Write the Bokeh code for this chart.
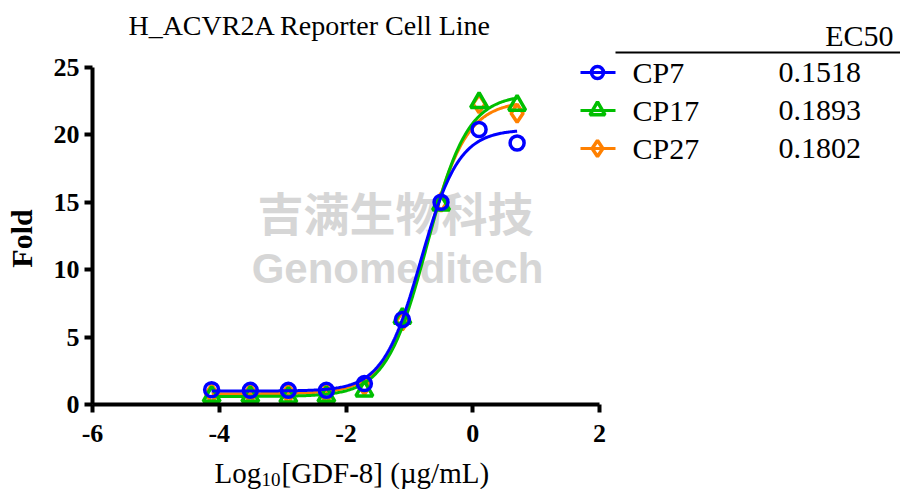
import numpy as np
from bokeh.plotting import figure
from bokeh.models import Range1d, FixedTicker, PrintfTickFormatter
from bokeh.core.properties import value
from bokeh.embed import file_html
from bokeh.resources import INLINE

# ---- data ----
log_conc = [-4.12, -3.51, -2.91, -2.31, -1.71, -1.11, -0.50, 0.10, 0.70]
series_names = ["CP7", "CP17", "CP27"]
fold_cp7 = [1.1, 1.05, 1.05, 1.05, 1.55, 6.3, 15.0, 20.4, 19.4]
fold_cp17 = [0.6, 0.6, 0.55, 0.6, 1.0, 6.4, 14.8, 22.4, 22.2]
fold_cp27 = [0.8, 0.8, 0.8, 0.8, 1.4, 6.2, 15.0, 22.3, 21.6]
ec50_labels = ["0.1518", "0.1893", "0.1802"]
# 4PL fit parameters (bottom, top, EC50 in ug/mL, hill slope)
fit_bottom = [1.0, 0.6, 0.8]
fit_top = [20.4, 23.0, 22.5]
fit_ec50 = [0.1518, 0.1893, 0.1802]
fit_hill = [1.45, 1.35, 1.35]
x_ticks = [-6, -4, -2, 0, 2]
y_ticks = [0, 5, 10, 15, 20, 25]

colors = ["#0000FF", "#00BF00", "#FF8000"]
markers = ["circle", "triangle", "diamond"]
marker_sizes = [14, 17, 18]
fold_all = [fold_cp7, fold_cp17, fold_cp27]

SERIF = "Liberation Serif"
W, H = 900, 489
X0_PX, PX_PER_X = 92.0, 63.375     # pixel of x=-6, pixels per x unit
Y0_PX, PX_PER_Y = 404.0, 13.48     # pixel of y=0, pixels per y unit


def fx(px):
    return -6 + (px - X0_PX) / PX_PER_X


def fy(py):
    return (Y0_PX - py) / PX_PER_Y


p = figure(width=W, height=H, output_backend="svg", toolbar_location=None,
           x_range=Range1d(fx(0), fx(W)), y_range=Range1d(fy(H), fy(0)),
           min_border_left=0, min_border_bottom=0, min_border_top=0, min_border_right=0)
p.outline_line_color = None
p.grid.visible = False
p.background_fill_color = "white"
p.border_fill_color = "white"

for ax, ticks, bnds in ((p.xaxis, x_ticks, (-6, 2)), (p.yaxis, y_ticks, (0, 25))):
    ax.ticker = FixedTicker(ticks=ticks)
    ax.formatter = PrintfTickFormatter(format="%d")
    ax.bounds = bnds
    ax.axis_line_width = 4
    ax.major_tick_line_width = 4
    ax.major_tick_in = 0
    ax.major_tick_out = 8
    ax.minor_tick_line_color = None
    ax.major_label_text_font = SERIF
    ax.major_label_text_font_style = "bold"
    ax.major_label_text_font_size = "26px"
    ax.major_label_text_color = "black"
    ax.axis_line_color = "black"
    ax.major_tick_line_color = "black"
p.xaxis.fixed_location = 0
p.yaxis.fixed_location = -6
p.xaxis.major_label_standoff = 12
p.yaxis.major_label_standoff = 5

# faint watermark text
p.text(x=[fx(395)], y=[fy(210)], text=["吉满生物科技"], text_font=value("Noto Sans CJK SC"),
       text_font_style="bold", text_font_size="46px", text_color="#d6d6d6",
       text_align="center", text_baseline="middle")
p.text(x=[fx(397)], y=[fy(268)], text=["Genomeditech"], text_font=value("Liberation Sans"),
       text_font_style="bold", text_font_size="42px", text_color="#d6d6d6",
       text_align="center", text_baseline="middle")

# curves and points (draw orange, green, blue so blue is on top)
xs = np.linspace(log_conc[0], log_conc[-1], 300)
for i in (2, 1, 0):
    c = np.log10(fit_ec50[i])
    ys = fit_bottom[i] + (fit_top[i] - fit_bottom[i]) / (1 + 10 ** ((c - xs) * fit_hill[i]))
    p.line(xs, ys, line_color=colors[i], line_width=3)
    p.scatter(log_conc, fold_all[i], marker=markers[i], size=marker_sizes[i],
              fill_alpha=0, line_color=colors[i], line_width=3.5)

# title
p.text(x=[fx(309.5)], y=[fy(25)], text=["H_ACVR2A Reporter Cell Line"], text_font=value(SERIF),
       text_font_size="28px", text_align="center", text_baseline="middle", text_color="black")

# legend table
p.text(x=[fx(893)], y=[fy(35)], text=["EC50"], text_font=value(SERIF), text_font_size="30px",
       text_align="right", text_baseline="middle", text_color="black")
p.line([fx(615), fx(902)], [fy(52), fy(52)], line_color="black", line_width=2)
row_px = [72, 110, 148]
row_y = [fy(v) for v in row_px]
for i in range(3):
    p.line([fx(580), fx(615)], [row_y[i], row_y[i]], line_color=colors[i], line_width=3)
    p.scatter([fx(597)], [row_y[i]], marker=markers[i], size=marker_sizes[i] - 2,
              fill_alpha=0, line_color=colors[i], line_width=3.5)
p.text(x=[fx(632)] * 3, y=row_y, text=series_names, text_font=value(SERIF), text_font_size="30px",
       text_align="left", text_baseline="middle", text_color="black")
p.text(x=[fx(778)] * 3, y=row_y, text=ec50_labels, text_font=value(SERIF), text_font_size="30px",
       text_align="left", text_baseline="middle", text_color="black")

# axis titles
p.text(x=[fx(214)], y=[fy(472)], text=["Log"], text_font=value(SERIF), text_font_size="29px",
       text_align="left", text_baseline="middle", text_color="black")
p.text(x=[fx(261)], y=[fy(479)], text=["10"], text_font=value(SERIF), text_font_size="19px",
       text_align="left", text_baseline="middle", text_color="black")
p.text(x=[fx(281)], y=[fy(472)], text=["[GDF-8] (µg/mL)"], text_font=value(SERIF),
       text_font_size="29px", text_align="left", text_baseline="middle", text_color="black")
p.text(x=[fx(21)], y=[fy(238)], text=["Fold"], text_font=value(SERIF), text_font_size="30px",
       text_font_style="bold", angle=np.pi / 2, text_align="center",
       text_baseline="middle", text_color="black")

open("out.html", "w").write(file_html(p, INLINE))
